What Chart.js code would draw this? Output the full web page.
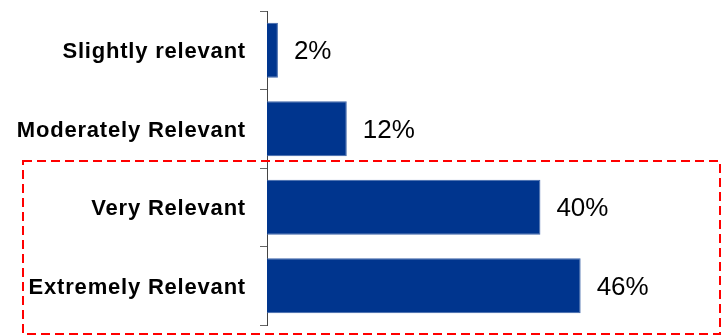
<!DOCTYPE html>
<html>
<head>
<meta charset="utf-8">
<title>Relevance</title>
<script src="https://cdn.jsdelivr.net/npm/chart.js@4/dist/chart.umd.min.js"></script>
<style>
  html, body { margin: 0; padding: 0; background: #fff; }
  .wrap { width: 721px; height: 336px; position: relative; }
</style>
</head>
<body>
<div class="wrap"><canvas id="chart"></canvas></div>
<script>
// categories, top to bottom
const categories = ['Slightly relevant', 'Moderately Relevant', 'Very Relevant', 'Extremely Relevant'];
// share of answers (%)
const shares = [1.6, 11.7, 40.1, 46];
// printed labels next to bars
const shareLabels = ['2%', '12%', '40%', '46%'];

const FONT = '"Liberation Sans", Arial, sans-serif';

// the original category text is a bit wider than Arial, spread it a little
const wideTicks = {
  id: 'wideTicks',
  beforeDraw(chart) { chart.ctx.letterSpacing = '0.8px'; },
  beforeDatasetsDraw(chart) { chart.ctx.letterSpacing = '0px'; },
};

// value text to the right of each bar
const valueLabels = {
  id: 'valueLabels',
  afterDatasetsDraw(chart) {
    const ctx = chart.ctx;
    const meta = chart.getDatasetMeta(0);
    ctx.save();
    ctx.font = `26px ${FONT}`;
    ctx.fillStyle = '#000';
    ctx.textAlign = 'left';
    ctx.textBaseline = 'middle';
    meta.data.forEach((bar, i) => {
      ctx.fillText(shareLabels[i], bar.x + 16, bar.y + 2);
    });
    ctx.restore();
  },
};

// red dashed highlight round the two top answers
const highlightBox = {
  id: 'highlightBox',
  afterDraw(chart) {
    const ctx = chart.ctx;
    const y = chart.scales.y;
    const top = y.getPixelForValue(2) - y.height / categories.length / 2 - 7;
    ctx.save();
    ctx.strokeStyle = '#ff0000';
    ctx.lineWidth = 2;
    ctx.setLineDash([9, 5]);
    ctx.strokeRect(23, top, 697, chart.height - 2 - top);
    ctx.restore();
  },
};

new Chart(document.getElementById('chart').getContext('2d'), {
  type: 'bar',
  data: {
    labels: categories,
    datasets: [{
      data: shares,
      backgroundColor: '#00358e',
      borderColor: '#3d64a8',
      borderWidth: { top: 1, bottom: 1, right: 1, left: 0 },
      barPercentage: 0.7,
      categoryPercentage: 1,
    }],
  },
  options: {
    indexAxis: 'y',
    responsive: true,
    maintainAspectRatio: false,
    animation: false,
    layout: { padding: { top: 11, bottom: 11, right: 4, left: 0 } },
    plugins: { legend: { display: false }, tooltip: { enabled: false } },
    scales: {
      x: { display: false, min: 0, max: 66 },
      y: {
        afterFit: (scale) => {
          scale.width = 267;
          scale.paddingTop = 0;
          scale.paddingBottom = 0;
        },
        border: { display: true, color: '#444', width: 1 },
        grid: { drawOnChartArea: false, drawTicks: true, tickLength: 7, color: '#666', offset: true },
        ticks: { color: '#000', padding: 14, labelOffset: 2, font: { family: FONT, size: 22, weight: 'bold' } },
      },
    },
  },
  plugins: [wideTicks, valueLabels, highlightBox],
});
</script>
</body>
</html>
